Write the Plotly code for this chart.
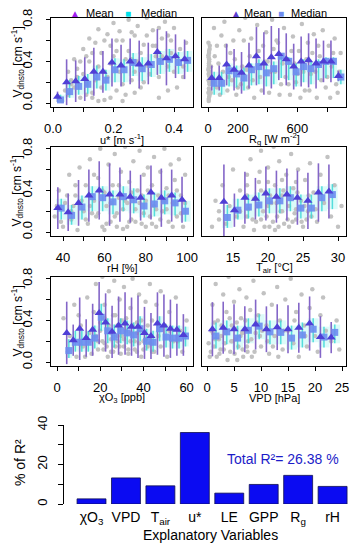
import plotly.graph_objects as go

W, H = 356, 550
FONT = "Liberation Sans, Arial, sans-serif"

# ---------------- data ----------------
# u* panel
ust_bins = [0.015, 0.045, 0.075, 0.105, 0.135, 0.165, 0.195, 0.225, 0.255, 0.285, 0.315, 0.345, 0.375, 0.405, 0.435]
ust_mean = [0.06, 0.20, 0.21, 0.23, 0.30, 0.30, 0.39, 0.36, 0.40, 0.37, 0.38, 0.49, 0.43, 0.45, 0.42]
ust_sd = [0.05, 0.22, 0.20, 0.21, 0.23, 0.20, 0.23, 0.20, 0.22, 0.23, 0.20, 0.22, 0.26, 0.21, 0.19]
ust_med = [0.03, 0.11, 0.16, 0.18, 0.25, 0.22, 0.32, 0.32, 0.39, 0.33, 0.37, 0.40, 0.42, 0.39, 0.41]
ust_q1 = [0.01, 0.05, 0.08, 0.09, 0.14, 0.12, 0.20, 0.20, 0.26, 0.21, 0.25, 0.28, 0.30, 0.28, 0.30]
ust_q3 = [0.08, 0.22, 0.26, 0.28, 0.36, 0.32, 0.43, 0.42, 0.48, 0.44, 0.47, 0.50, 0.52, 0.49, 0.50]
ust_px = [0.02, 0.03, 0.04, 0.05, 0.05, 0.06, 0.07, 0.07, 0.08, 0.09, 0.10, 0.10, 0.11, 0.12, 0.12, 0.13, 0.14, 0.15, 0.15, 0.16,
          0.17, 0.18, 0.18, 0.19, 0.20, 0.20, 0.21, 0.22, 0.22, 0.23, 0.24, 0.25, 0.25, 0.26, 0.27, 0.28, 0.28, 0.29, 0.30, 0.31,
          0.32, 0.33, 0.34, 0.35, 0.36, 0.37, 0.38, 0.39, 0.40, 0.42, 0.43, 0.44, 0.13, 0.17, 0.21, 0.26, 0.30, 0.34, 0.38, 0.11,
          0.06, 0.08, 0.09, 0.11, 0.13, 0.14, 0.16, 0.17, 0.19, 0.21, 0.23, 0.24, 0.26, 0.27, 0.29, 0.31, 0.33, 0.35, 0.36, 0.38,
          0.40, 0.41, 0.15, 0.19, 0.23, 0.27, 0.31, 0.35, 0.39, 0.43]
ust_py = [0.05, 0.02, 0.12, 0.30, 0.08, 0.22, 0.42, 0.15, 0.33, 0.05, 0.52, 0.28, 0.18, 0.62, 0.40, 0.10, 0.58, 0.71, 0.35, 0.48,
          0.03, 0.66, 0.25, 0.55, 0.77, 0.45, 0.12, 0.69, 0.30, 0.60, 0.08, 0.80, 0.50, 0.22, 0.65, 0.74, 0.40, 0.15, 0.56, 0.82,
          0.28, 0.70, 0.45, 0.05, 0.62, 0.78, 0.35, 0.60, 0.72, 0.52, 0.25, 0.58, 0.05, 0.30, 0.60, 0.42, 0.20, 0.55, 0.12, 0.45,
          0.18, 0.25, 0.40, 0.08, 0.48, 0.22, 0.15, 0.60, 0.38, 0.50, 0.18, 0.42, 0.68, 0.10, 0.48, 0.36, 0.55, 0.25, 0.45, 0.65,
          0.30, 0.15, 0.02, 0.05, 0.02, 0.30, 0.65, 0.72, 0.48, 0.35]

# Rg panel
rg_bins = [25, 75, 125, 175, 225, 275, 325, 375, 425, 475, 525, 575, 625, 675, 725, 775, 825, 875]
rg_mean = [0.24, 0.24, 0.37, 0.32, 0.29, 0.36, 0.45, 0.38, 0.44, 0.47, 0.42, 0.35, 0.40, 0.41, 0.38, 0.40, 0.40, 0.26]
rg_sd = [0.12, 0.12, 0.20, 0.20, 0.20, 0.22, 0.28, 0.30, 0.30, 0.25, 0.25, 0.22, 0.24, 0.26, 0.24, 0.20, 0.20, 0.05]
rg_med = [0.19, 0.19, 0.31, 0.28, 0.24, 0.32, 0.35, 0.29, 0.33, 0.45, 0.40, 0.30, 0.35, 0.33, 0.37, 0.40, 0.40, 0.25]
rg_q1 = [0.08, 0.08, 0.16, 0.15, 0.12, 0.17, 0.18, 0.16, 0.18, 0.24, 0.22, 0.16, 0.20, 0.18, 0.22, 0.24, 0.24, 0.18]
rg_q3 = [0.30, 0.30, 0.38, 0.36, 0.34, 0.38, 0.42, 0.38, 0.40, 0.46, 0.44, 0.38, 0.42, 0.40, 0.42, 0.44, 0.44, 0.32]
rg_px = [5, 8, 3, 6, 10, 4, 7, 9, 5, 6, 8, 3, 7, 12, 5, 9, 4, 11,
         40, 60, 90, 110, 130, 150, 170, 190, 210, 230, 250, 270, 290, 310, 330, 350, 370, 390, 410, 430, 450, 470, 490,
         510, 530, 550, 570, 590, 610, 630, 650, 670, 690, 710, 730, 750, 770, 790, 810, 830, 850, 870, 890,
         60, 100, 160, 220, 280, 340, 400, 460, 520, 580, 640, 700, 760, 820,
         2, 6, 9, 4, 11, 7, 3, 8, 14, 18, 20, 35, 45, 70, 80, 120, 140, 180, 200, 240, 260, 300, 320, 360, 380, 420,
         440, 480, 500, 540, 560, 600, 620, 660, 680, 720, 740, 780, 800, 840, 860, 880]
rg_py = [0.02, 0.06, 0.10, 0.14, 0.18, 0.22, 0.26, 0.30, 0.34, 0.38, 0.42, 0.46, 0.50, 0.55, 0.04, 0.12, 0.28, 0.08,
         0.72, 0.55, 0.65, 0.78, 0.12, 0.48, 0.60, 0.08, 0.70, 0.35, 0.82, 0.15, 0.62, 0.05, 0.75, 0.25, 0.55, 0.68, 0.10,
         0.80, 0.30, 0.58, 0.18, 0.72, 0.42, 0.08, 0.64, 0.20, 0.50, 0.76, 0.12, 0.58, 0.28, 0.66, 0.05, 0.45, 0.70, 0.15,
         0.55, 0.35, 0.62, 0.10, 0.48, 0.15, 0.30, 0.22, 0.18, 0.45, 0.50, 0.40, 0.60, 0.25, 0.38, 0.30, 0.48, 0.22, 0.05,
         0.32, 0.36, 0.20, 0.44, 0.52, 0.48, 0.58, 0.40, 0.25, 0.10, 0.35, 0.20, 0.45, 0.38, 0.08, 0.55, 0.25, 0.42, 0.15,
         0.60, 0.32, 0.22, 0.45, 0.12, 0.40, 0.30, 0.52, 0.08, 0.38, 0.18, 0.50, 0.28, 0.05, 0.42, 0.12, 0.30, 0.55, 0.40,
         0.25, 0.48, 0.18, 0.30]

# rH panel
rh_bins = [37.5, 42.5, 47.5, 52.5, 57.5, 62.5, 67.5, 72.5, 77.5, 82.5, 87.5, 92.5, 97.5]
rh_mean = [0.23, 0.19, 0.28, 0.35, 0.40, 0.36, 0.36, 0.34, 0.33, 0.38, 0.33, 0.35, 0.31]
rh_sd = [0.20, 0.18, 0.22, 0.25, 0.28, 0.30, 0.26, 0.25, 0.22, 0.26, 0.28, 0.25, 0.22]
rh_med = [0.23, 0.16, 0.24, 0.34, 0.33, 0.29, 0.34, 0.31, 0.25, 0.27, 0.30, 0.28, 0.20]
rh_q1 = [0.12, 0.07, 0.12, 0.20, 0.20, 0.17, 0.20, 0.18, 0.14, 0.15, 0.17, 0.16, 0.10]
rh_q3 = [0.32, 0.26, 0.35, 0.44, 0.44, 0.40, 0.44, 0.42, 0.36, 0.38, 0.40, 0.38, 0.30]
rh_px = [36, 38, 40, 41, 43, 44, 46, 47, 48, 50, 51, 52, 53, 55, 56, 57, 58, 59, 60, 61, 62, 63, 64, 65, 66, 67, 68, 69, 70,
         71, 72, 73, 74, 75, 76, 77, 78, 79, 80, 81, 82, 83, 84, 85, 86, 87, 88, 89, 90, 91, 92, 93, 94, 95, 96, 97, 98, 99,
         45, 54, 66, 72, 78, 84, 90,
         37, 39, 42, 44, 46, 49, 51, 53, 55, 57, 59, 61, 63, 65, 67, 69, 71, 73, 75, 77, 79, 81, 83, 85, 87, 89, 91, 93,
         95, 97, 99, 60, 70, 80]
rh_py = [0.15, 0.40, 0.05, 0.28, 0.55, 0.12, 0.35, 0.02, 0.62, 0.20, 0.45, 0.08, 0.70, 0.30, 0.15, 0.52, 0.80, 0.05, 0.38,
         0.25, 0.65, 0.10, 0.45, 0.75, 0.18, 0.33, 0.58, 0.03, 0.82, 0.28, 0.48, 0.12, 0.68, 0.22, 0.40, 0.78, 0.08, 0.55,
         0.30, 0.62, 0.15, 0.45, 0.72, 0.05, 0.35, 0.58, 0.20, 0.80, 0.42, 0.10, 0.65, 0.28, 0.50, 0.15, 0.70, 0.35, 0.05,
         0.55, 0.25, 0.18, 0.05, 0.10, 0.35, 0.25, 0.22,
         0.25, 0.10, 0.35, 0.20, 0.45, 0.30, 0.12, 0.25, 0.55, 0.18, 0.40, 0.08, 0.28, 0.15, 0.45, 0.22, 0.05, 0.38, 0.10,
         0.28, 0.18, 0.40, 0.08, 0.22, 0.12, 0.30, 0.35, 0.05, 0.40, 0.18, 0.28, 0.02, 0.30, 0.05]

# Tair panel
ta_bins = [13.7, 15.2, 16.7, 18.2, 19.7, 21.2, 22.7, 24.2, 25.7, 27.2, 28.7]
ta_mean = [0.29, 0.21, 0.33, 0.32, 0.37, 0.34, 0.36, 0.33, 0.30, 0.38, 0.39]
ta_sd = [0.36, 0.16, 0.25, 0.20, 0.26, 0.25, 0.25, 0.26, 0.27, 0.28, 0.26]
ta_med = [0.14, 0.21, 0.24, 0.26, 0.30, 0.30, 0.33, 0.23, 0.23, 0.33, 0.36]
ta_q1 = [0.04, 0.12, 0.13, 0.15, 0.18, 0.18, 0.20, 0.13, 0.13, 0.20, 0.22]
ta_q3 = [0.26, 0.32, 0.36, 0.38, 0.42, 0.42, 0.44, 0.36, 0.36, 0.44, 0.46]
ta_px = [12, 12.5, 13, 13.5, 14, 14.5, 15, 15.5, 16, 16.5, 17, 17.2, 17.5, 18, 18.3, 18.7, 19, 19.3, 19.6, 20, 20.2, 20.5,
         20.8, 21, 21.3, 21.6, 22, 22.3, 22.6, 23, 23.3, 23.6, 24, 24.3, 24.7, 25, 25.3, 25.7, 26, 26.5, 27, 27.5, 28, 28.5,
         29, 29.5, 30, 30.5, 18, 19, 21, 22, 23, 24, 20, 17,
         16, 17, 17.8, 18.5, 19, 19.8, 20.3, 20.7, 21.2, 21.8, 22.2, 22.8, 23.2, 23.8, 24.2, 24.8, 25.2, 25.8, 26.2, 17,
         19.5, 21.5, 23.5, 25.5, 20, 22, 24, 18.8, 26.8, 13]
ta_py = [0.05, 0.30, 0.12, 0.45, 0.08, 0.25, 0.60, 0.15, 0.40, 0.05, 0.55, 0.22, 0.70, 0.32, 0.10, 0.48, 0.78, 0.20, 0.38,
         0.62, 0.05, 0.28, 0.82, 0.45, 0.15, 0.68, 0.35, 0.08, 0.55, 0.25, 0.75, 0.42, 0.12, 0.60, 0.30, 0.05, 0.50, 0.20,
         0.66, 0.38, 0.10, 0.55, 0.28, 0.72, 0.15, 0.45, 0.05, 0.25, 0.02, 0.12, 0.02, 0.20, 0.05, 0.22, 0.25, 0.15,
         0.20, 0.35, 0.12, 0.25, 0.40, 0.15, 0.35, 0.10, 0.28, 0.20, 0.40, 0.12, 0.32, 0.18, 0.38, 0.10, 0.25, 0.35, 0.15,
         0.45, 0.05, 0.05, 0.10, 0.12, 0.48, 0.50, 0.48, 0.58, 0.22, 0.20]

# chi O3 panel
o3_bins = [4.5, 7.5, 10.5, 13.5, 16.5, 19.5, 22.5, 25.5, 28.5, 31.5, 34.5, 37.5, 40.5, 43.5, 46.5, 49.5, 52.5, 55.5, 58.5]
o3_mean = [0.28, 0.21, 0.32, 0.23, 0.31, 0.47, 0.38, 0.29, 0.35, 0.37, 0.34, 0.34, 0.28, 0.25, 0.37, 0.35, 0.32, 0.31, 0.26]
o3_sd = [0.30, 0.15, 0.30, 0.18, 0.25, 0.30, 0.28, 0.25, 0.28, 0.30, 0.28, 0.30, 0.25, 0.22, 0.30, 0.30, 0.28, 0.25, 0.20]
o3_med = [0.11, 0.19, 0.19, 0.19, 0.23, 0.43, 0.30, 0.24, 0.30, 0.28, 0.26, 0.32, 0.20, 0.19, 0.32, 0.24, 0.23, 0.23, 0.25]
o3_q1 = [0.04, 0.10, 0.10, 0.10, 0.13, 0.30, 0.18, 0.14, 0.18, 0.17, 0.15, 0.20, 0.11, 0.10, 0.20, 0.14, 0.13, 0.13, 0.15]
o3_q3 = [0.22, 0.30, 0.30, 0.30, 0.35, 0.56, 0.42, 0.36, 0.42, 0.40, 0.38, 0.44, 0.32, 0.30, 0.44, 0.36, 0.35, 0.35, 0.34]
o3_px = [3, 5, 6, 8, 9, 11, 12, 14, 15, 16, 17, 18, 19, 20, 21, 21.5, 22, 23, 23.5, 24, 25, 26, 26.5, 27, 28, 29, 29.5,
         30, 31, 32, 33, 34, 35, 36, 37, 38, 39, 40, 41, 42, 43, 44, 45, 46, 47, 48, 50, 51, 52, 54, 55, 57, 58, 60,
         22, 25, 28, 31, 34, 37, 40,
         18, 19, 20, 21, 22, 23, 24, 25, 26, 27, 28, 29, 30, 31, 32, 33, 34, 35, 36, 37, 38, 39, 40, 41, 42, 43, 44,
         10, 13, 15, 48, 52, 56]
o3_py = [0.42, 0.10, 0.25, 0.55, 0.05, 0.35, 0.15, 0.62, 0.28, 0.08, 0.48, 0.75, 0.20, 0.38, 0.82, 0.12, 0.55, 0.30,
         0.05, 0.68, 0.22, 0.45, 0.78, 0.15, 0.35, 0.60, 0.08, 0.25, 0.72, 0.42, 0.12, 0.52, 0.80, 0.20, 0.38, 0.65, 0.05,
         0.30, 0.58, 0.15, 0.75, 0.40, 0.10, 0.55, 0.25, 0.68, 0.35, 0.05, 0.48, 0.20, 0.62, 0.30, 0.10, 0.40,
         0.18, 0.10, 0.20, 0.15, 0.28, 0.10, 0.20,
         0.25, 0.12, 0.30, 0.20, 0.42, 0.15, 0.35, 0.28, 0.10, 0.45, 0.25, 0.15, 0.40, 0.22, 0.30, 0.08, 0.20, 0.35, 0.12,
         0.28, 0.18, 0.40, 0.12, 0.22, 0.35, 0.18, 0.10, 0.45, 0.05, 0.20, 0.15, 0.30, 0.20]

# VPD panel
vpd_bins = [1, 3, 5, 7, 9, 11, 13, 15, 17, 19, 21, 23]
vpd_mean = [0.315, 0.33, 0.315, 0.315, 0.36, 0.315, 0.335, 0.315, 0.33, 0.37, 0.24, 0.235]
vpd_sd = [0.26, 0.25, 0.24, 0.22, 0.24, 0.22, 0.22, 0.23, 0.24, 0.26, 0.20, 0.15]
vpd_med = [0.25, 0.29, 0.23, 0.305, 0.345, 0.29, 0.285, 0.23, 0.26, 0.315, 0.24, 0.285]
vpd_q1 = [0.13, 0.17, 0.12, 0.18, 0.22, 0.17, 0.17, 0.12, 0.14, 0.19, 0.14, 0.18]
vpd_q3 = [0.38, 0.40, 0.35, 0.42, 0.46, 0.40, 0.40, 0.35, 0.38, 0.42, 0.34, 0.36]
vpd_px = [0.5, 0.8, 1, 1.3, 1.6, 2, 2.3, 2.6, 3, 3.3, 3.6, 4, 4.3, 4.6, 5, 5.3, 5.6, 6, 6.3, 6.6, 7, 7.3, 7.6, 8, 8.3, 8.6,
          9, 9.5, 10, 10.5, 11, 11.5, 12, 12.5, 13, 13.5, 14, 14.5, 15, 15.5, 16, 16.5, 17, 17.5, 18, 18.5, 19, 19.5, 20,
          20.5, 21, 21.5, 22, 23, 24, 24.5, 1.5, 2.5, 3.5, 4.5, 5.5, 6.5, 7.5,
          0.3, 0.7, 1.1, 1.4, 1.8, 2.2, 2.7, 3.1, 3.4, 3.8, 4.2, 4.7, 5.1, 5.4, 5.8, 6.2, 6.7, 7.1, 7.4, 7.8, 8.2, 8.8,
          9.2, 9.8, 10.2, 11.2, 12.2, 13.2, 14.2, 16.2, 18.2]
vpd_py = [0.05, 0.30, 0.55, 0.15, 0.75, 0.40, 0.08, 0.25, 0.65, 0.18, 0.48, 0.82, 0.10, 0.35, 0.58, 0.22, 0.02, 0.70,
          0.42, 0.12, 0.30, 0.62, 0.20, 0.50, 0.05, 0.78, 0.28, 0.45, 0.15, 0.66, 0.35, 0.08, 0.55, 0.25, 0.72, 0.40, 0.12,
          0.60, 0.30, 0.80, 0.18, 0.48, 0.05, 0.65, 0.35, 0.15, 0.52, 0.70, 0.25, 0.10, 0.45, 0.62, 0.30, 0.20, 0.40, 0.12,
          0.22, 0.12, 0.30, 0.20, 0.38, 0.28, 0.10,
          0.18, 0.10, 0.28, 0.38, 0.05, 0.22, 0.35, 0.12, 0.28, 0.02, 0.42, 0.20, 0.08, 0.32, 0.15, 0.25, 0.05, 0.40, 0.15,
          0.30, 0.22, 0.10, 0.38, 0.25, 0.30, 0.20, 0.15, 0.05, 0.30, 0.40, 0.25]

# bar chart: relative importance (% of R2)
bar_cats = ["χO<sub>3</sub>", "VPD", "T<sub>air</sub>", "u*", "LE", "GPP", "R<sub>g</sub>", "rH"]
bar_vals = [2.6, 13.2, 9.2, 36.2, 5.5, 9.9, 14.5, 8.9]
total_r2 = "Total R²= 26.38 %"

# ---------------- layout helpers ----------------
def xd(a, b):
    return [a / W, b / W]

def yd(top, bottom):
    return [1 - bottom / H, 1 - top / H]

YR = [-0.038, 0.817]
LEFT = (51, 193)
RIGHT = (202, 346)
ROWS = [(18, 107), (147, 236), (277, 366)]

panels = [
    dict(bins=ust_bins, mean=ust_mean, sd=ust_sd, med=ust_med, q1=ust_q1, q3=ust_q3, px=ust_px, py=ust_py,
         xr=[-0.0066, 0.4628], tv=[0, 0.2, 0.4], tt=["0.0", "0.2", "0.4"], minor=[0.1, 0.3],
         col=LEFT, row=0, title="u* [m s<sup>-1</sup>]"),
    dict(bins=rg_bins, mean=rg_mean, sd=rg_sd, med=rg_med, q1=rg_q1, q3=rg_q3, px=rg_px, py=rg_py,
         xr=[-40.3, 926], tv=[0, 200, 600], tt=["0", "200", "600"], minor=[400, 800],
         col=RIGHT, row=0, title="R<sub>g</sub> [W m<sup>-2</sup>]"),
    dict(bins=rh_bins, mean=rh_mean, sd=rh_sd, med=rh_med, q1=rh_q1, q3=rh_q3, px=rh_px, py=rh_py,
         xr=[34.2, 102.8], tv=[40, 60, 80, 100], tt=["40", "60", "80", "100"], minor=[50, 70, 90],
         col=LEFT, row=1, title="rH [%]"),
    dict(bins=ta_bins, mean=ta_mean, sd=ta_sd, med=ta_med, q1=ta_q1, q3=ta_q3, px=ta_px, py=ta_py,
         xr=[10.57, 31.14], tv=[15, 20, 25, 30], tt=["15", "20", "25", "30"], minor=[],
         col=RIGHT, row=1, title="T<sub>air</sub> [°C]"),
    dict(bins=o3_bins, mean=o3_mean, sd=o3_sd, med=o3_med, q1=o3_q1, q3=o3_q3, px=o3_px, py=o3_py,
         xr=[-2.78, 62.96], tv=[0, 20, 40, 60], tt=["0", "20", "40", "60"], minor=[10, 30, 50],
         col=LEFT, row=2, title="χO<sub>3</sub> [ppb]"),
    dict(bins=vpd_bins, mean=vpd_mean, sd=vpd_sd, med=vpd_med, q1=vpd_q1, q3=vpd_q3, px=vpd_px, py=vpd_py,
         xr=[-0.93, 25.74], tv=[0, 5, 10, 15, 20, 25], tt=["0", "5", "10", "15", "20", "25"], minor=[],
         col=RIGHT, row=2, title="VPD [hPa]"),
]

fig = go.Figure()
layout = {}
annotations = []

C_MEAN = "#4f3fd6"
C_MEAN_LINE = "#8466c8"
C_MED = "#6b8cf0"
C_MED_LINE = "rgba(60,215,215,0.85)"
C_BAND = "rgba(80,235,225,0.20)"
C_PTS = "#c2c2c2"


def ann(text, x, y, size, color="black", xanchor="center", angle=0):
    return dict(text=text, x=x / W, y=1 - y / H, xref="paper", yref="paper", showarrow=False,
                xanchor=xanchor, yanchor="middle", textangle=angle, font=dict(size=size, color=color))


for i, p in enumerate(panels, start=1):
    xa = "x" if i == 1 else f"x{i}"
    ya = "y" if i == 1 else f"y{i}"
    bins = p["bins"]
    bw = bins[1] - bins[0]
    shift = 0.33 * bw
    mx = [b + shift for b in bins]

    # raw points
    fig.add_trace(go.Scatter(x=p["px"], y=p["py"], mode="markers", xaxis=xa, yaxis=ya,
                             marker=dict(size=4.5, color=C_PTS), showlegend=False, hoverinfo="skip"))
    # inter-quartile band
    fig.add_trace(go.Bar(x=mx, y=[b - a for a, b in zip(p["q1"], p["q3"])], base=p["q1"], width=bw,
                         xaxis=xa, yaxis=ya, marker=dict(color=C_BAND, line=dict(width=0)),
                         showlegend=False, hoverinfo="skip"))
    # median IQR lines
    qx, qy = [], []
    for b, a, c in zip(mx, p["q1"], p["q3"]):
        qx += [b, b, None]
        qy += [a, c, None]
    fig.add_trace(go.Scatter(x=qx, y=qy, mode="lines", xaxis=xa, yaxis=ya,
                             line=dict(color=C_MED_LINE, width=1.5), showlegend=False, hoverinfo="skip"))
    # mean +- sd lines
    lx, ly = [], []
    for b, m, s in zip(bins, p["mean"], p["sd"]):
        lx += [b, b, None]
        ly += [m - s, m + s, None]
    fig.add_trace(go.Scatter(x=lx, y=ly, mode="lines", xaxis=xa, yaxis=ya,
                             line=dict(color=C_MEAN_LINE, width=1.6), showlegend=False, hoverinfo="skip"))
    # median squares
    fig.add_trace(go.Scatter(x=mx, y=p["med"], mode="markers", xaxis=xa, yaxis=ya,
                             marker=dict(symbol="square", size=7, color=C_MED, opacity=0.9), showlegend=False))
    # mean triangles
    fig.add_trace(go.Scatter(x=bins, y=p["mean"], mode="markers", xaxis=xa, yaxis=ya,
                             marker=dict(symbol="triangle-up", size=8, color=C_MEAN), showlegend=False))

    c0, c1 = p["col"]
    r0, r1 = ROWS[p["row"]]
    is_left = p["col"] == LEFT
    xaxis = dict(
        domain=xd(c0, c1), range=p["xr"], anchor=ya, tickmode="array", tickvals=p["tv"], ticktext=p["tt"],
        automargin=False, ticks="outside", ticklen=4, tickcolor="black", showline=True, mirror=True,
        linecolor="black", linewidth=1, showgrid=False, zeroline=False, tickfont=dict(size=13, color="black"),
        ticklabelstandoff=5)
    if p["minor"]:
        xaxis["minor"] = dict(tickmode="array", tickvals=p["minor"], ticks="outside", ticklen=4,
                              tickcolor="black", showgrid=False)
    layout["xaxis" if i == 1 else f"xaxis{i}"] = xaxis
    yaxis = dict(
        domain=yd(r0, r1), range=YR, anchor=xa, automargin=False,
        showline=True, mirror=True, linecolor="black", linewidth=1, showgrid=False, zeroline=False)
    if is_left:
        yaxis.update(tickmode="array", tickvals=[0, 0.4, 0.8], ticktext=["0.0", "0.4", "0.8"], tickangle=-90,
                     ticks="outside", ticklen=4, tickcolor="black", tickfont=dict(size=13, color="black"),
                     ticklabelstandoff=9,
                     minor=dict(tickmode="array", tickvals=[0.2, 0.6], ticks="outside", ticklen=4,
                                tickcolor="black", showgrid=False))
    else:
        yaxis.update(showticklabels=False, ticks="")
    layout["yaxis" if i == 1 else f"yaxis{i}"] = yaxis

    annotations.append(ann(p["title"], (c0 + c1) / 2, r1 + 32, 11))
    if is_left:
        annotations.append(ann("V<sub>dnsto</sub> [cm s<sup>-1</sup>]", 17, (r0 + r1) / 2, 12, angle=-90))

# bar chart
bx = list(range(len(bar_cats)))
fig.add_trace(go.Bar(x=bx, y=bar_vals, width=0.84, xaxis="x7", yaxis="y7",
                     marker=dict(color="#0b0bf2", line=dict(color="#101050", width=0.8)), showlegend=False))
layout["xaxis7"] = dict(domain=xd(63, 356), range=[-0.828, 7.68], anchor="y7", tickmode="array",
                        tickvals=bx, ticktext=bar_cats,
                        showline=False, ticks="", showgrid=False, zeroline=False, automargin=False,
                        tickfont=dict(size=14, color="black"), ticklabelstandoff=3)
layout["yaxis7"] = dict(domain=yd(425, 504), range=[0, 40], anchor="free", position=63 / W, automargin=False,
                        tickmode="array", tickvals=[0, 20, 40], ticktext=["0", "20", "40"], tickangle=-90,
                        ticks="outside", ticklen=5, tickcolor="black", showline=True, linecolor="black",
                        showgrid=False, zeroline=False, tickfont=dict(size=13, color="black"), ticklabelstandoff=6,
                        minor=dict(tickmode="array", tickvals=[10, 30], ticks="outside", ticklen=5,
                                   tickcolor="black", showgrid=False))
annotations += [
    ann("% of R²", 20, 463, 14, angle=-90),
    ann("Explanatory Variables", 210, 535, 14),
    ann(total_r2, 283, 459, 14, color="#1c1cc8"),
]

# legends
annotations += [
    ann("▲", 75, 13, 10, "#a020f0"), ann("Mean", 84, 13, 11, xanchor="left"),
    ann("■", 128, 13, 10, "#00e0ea"), ann("Median", 139, 13, 11, xanchor="left"),
    ann("▲", 236, 13, 10, "#5b3fd0"), ann("Mean", 242, 13, 11, xanchor="left"),
    ann("■", 281, 13, 10, "#6f8cf0"), ann("Median", 289, 13, 11, xanchor="left"),
]

fig.update_layout(**layout)
fig.update_layout(width=W, height=H, margin=dict(l=0, r=0, t=0, b=0), plot_bgcolor="white", paper_bgcolor="white",
                  font=dict(family=FONT, color="black"), annotations=annotations, barmode="overlay",
                  showlegend=False)

fig.write_html("out.html", config={"displayModeBar": False},
               post_script="document.body.style.margin='0';document.body.style.overflow='hidden';")
